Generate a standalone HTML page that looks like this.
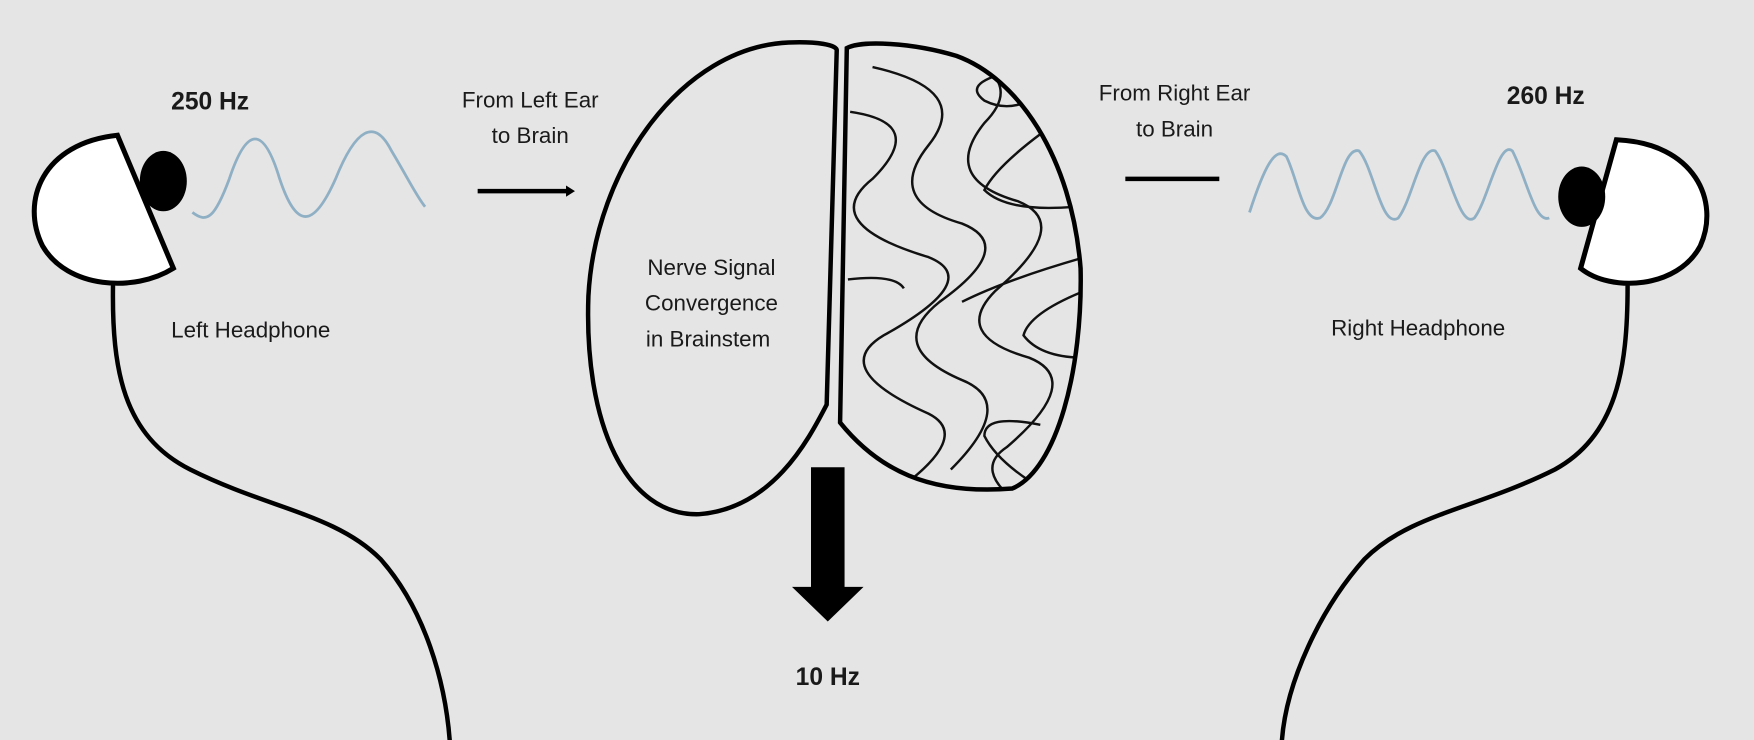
<!DOCTYPE html>
<html><head><meta charset="utf-8"><style>
html,body{margin:0;padding:0;background:#e6e5e6;}
svg{display:block;}
</style></head><body>
<svg width="1754" height="740" viewBox="0 0 1568 662" preserveAspectRatio="none" xmlns="http://www.w3.org/2000/svg" font-family="'Liberation Sans', Arial, sans-serif">
<defs>
<clipPath id="rh"><path d="M757,43 L751,378 C785,420 830,443 905,437 C945,420 968,330 966,240 C958,140 910,70 855,50 C815,38 770,36 757,43 Z"/></clipPath>
</defs>
<rect width="1568" height="662" fill="#e6e5e6"/>
<g fill="none" stroke="#000" stroke-width="4" stroke-linecap="round">
<path d="M101,256 C100,330 110,390 170,420 C240,455 300,460 340,500 C380,545 398,610 402,662"/>
<path d="M1455,256 C1455,330 1445,390 1390,420 C1320,455 1260,460 1220,500 C1180,545 1150,610 1146,662"/>
</g>
<path d="M105,121 L155,240 C120,262 60,258 38,220 C18,180 38,128 105,121 Z" fill="#fff" stroke="#000" stroke-width="4.5"/>
<ellipse cx="146" cy="162" rx="21" ry="27" fill="#000"/>
<path d="M1445,125 L1413,240 C1440,262 1500,258 1520,220 C1538,180 1515,128 1445,125 Z" fill="#fff" stroke="#000" stroke-width="4.5"/>
<ellipse cx="1414" cy="176" rx="21" ry="27" fill="#000"/>
<g fill="none" stroke="#8fb0c4" stroke-width="2.5">
<path d="M172,190 C185,200 192,195 205,160 C220,115 235,110 250,160 C265,205 280,205 300,160 C318,115 335,105 350,135 C365,160 372,175 380,185"/>
<path d="M1117,190 C1130,150 1140,130 1150,140 C1160,160 1165,200 1180,195 C1195,185 1200,130 1215,135 C1228,150 1235,205 1250,195 C1262,180 1270,130 1283,135 C1295,150 1305,205 1318,195 C1330,180 1340,125 1352,135 C1365,160 1372,200 1385,195"/>
</g>
<line x1="427" y1="171" x2="508" y2="171" stroke="#000" stroke-width="4"/>
<path d="M506,166 L514,171 L506,176 Z" fill="#000"/>
<line x1="1006" y1="160" x2="1090" y2="160" stroke="#000" stroke-width="4"/>
<rect x="725" y="418" width="30" height="108" fill="#000"/>
<path d="M708,525 L772,525 L740,556 Z" fill="#000"/>
<path d="M748,45 L739,362 C722,395 690,455 625,460 C560,462 522,380 526,265 C532,150 610,42 705,38 C730,37 748,40 748,45 Z" fill="#e6e5e6" stroke="#000" stroke-width="4"/>
<path d="M757,43 L751,378 C785,420 830,443 905,437 C945,420 968,330 966,240 C958,140 910,70 855,50 C815,38 770,36 757,43 Z" fill="#e6e5e6"/>
<g clip-path="url(#rh)" fill="none" stroke="#111" stroke-width="2.2">
<path d="M760,100 Q830,110 780,160 Q730,200 830,230 Q880,250 790,300 Q740,330 830,370 Q870,390 800,440"/>
<path d="M780,60 Q870,80 830,130 Q790,180 860,200 Q910,220 840,270 Q790,310 860,340 Q910,360 850,420"/>
<path d="M850,45 Q920,70 880,110 Q840,160 910,180 Q960,200 890,260 Q850,300 920,320 Q970,340 900,400 Q870,420 910,450"/>
<path d="M900,65 Q860,75 880,90 Q900,100 920,90"/>
<path d="M930,120 Q890,150 880,170 Q900,190 960,185"/>
<path d="M970,230 Q900,250 860,270"/>
<path d="M970,260 Q920,280 915,300 Q930,320 970,320"/>
<path d="M758,250 Q800,245 808,258"/>
<path d="M930,380 Q880,370 880,390 Q890,410 920,430"/>
</g>
<path d="M757,43 L751,378 C785,420 830,443 905,437 C945,420 968,330 966,240 C958,140 910,70 855,50 C815,38 770,36 757,43 Z" fill="none" stroke="#000" stroke-width="4"/>
<g fill="#1a1a1a">
<text x="153" y="98" font-size="22" font-weight="bold">250 Hz</text>
<text x="1347" y="93" font-size="22" font-weight="bold">260 Hz</text>
<text x="740" y="613" font-size="22" font-weight="bold" text-anchor="middle">10 Hz</text>
<text x="474" y="96" font-size="20" text-anchor="middle">From Left Ear</text>
<text x="474" y="128" font-size="20" text-anchor="middle">to Brain</text>
<text x="1050" y="90" font-size="20" text-anchor="middle">From Right Ear</text>
<text x="1050" y="122" font-size="20" text-anchor="middle">to Brain</text>
<text x="153" y="302" font-size="20">Left Headphone</text>
<text x="1190" y="300" font-size="20">Right Headphone</text>
<text x="636" y="246" font-size="20" text-anchor="middle">Nerve Signal</text>
<text x="636" y="278" font-size="20" text-anchor="middle">Convergence</text>
<text x="633" y="310" font-size="20" text-anchor="middle">in Brainstem</text>
</g>
</svg>
</body></html>
